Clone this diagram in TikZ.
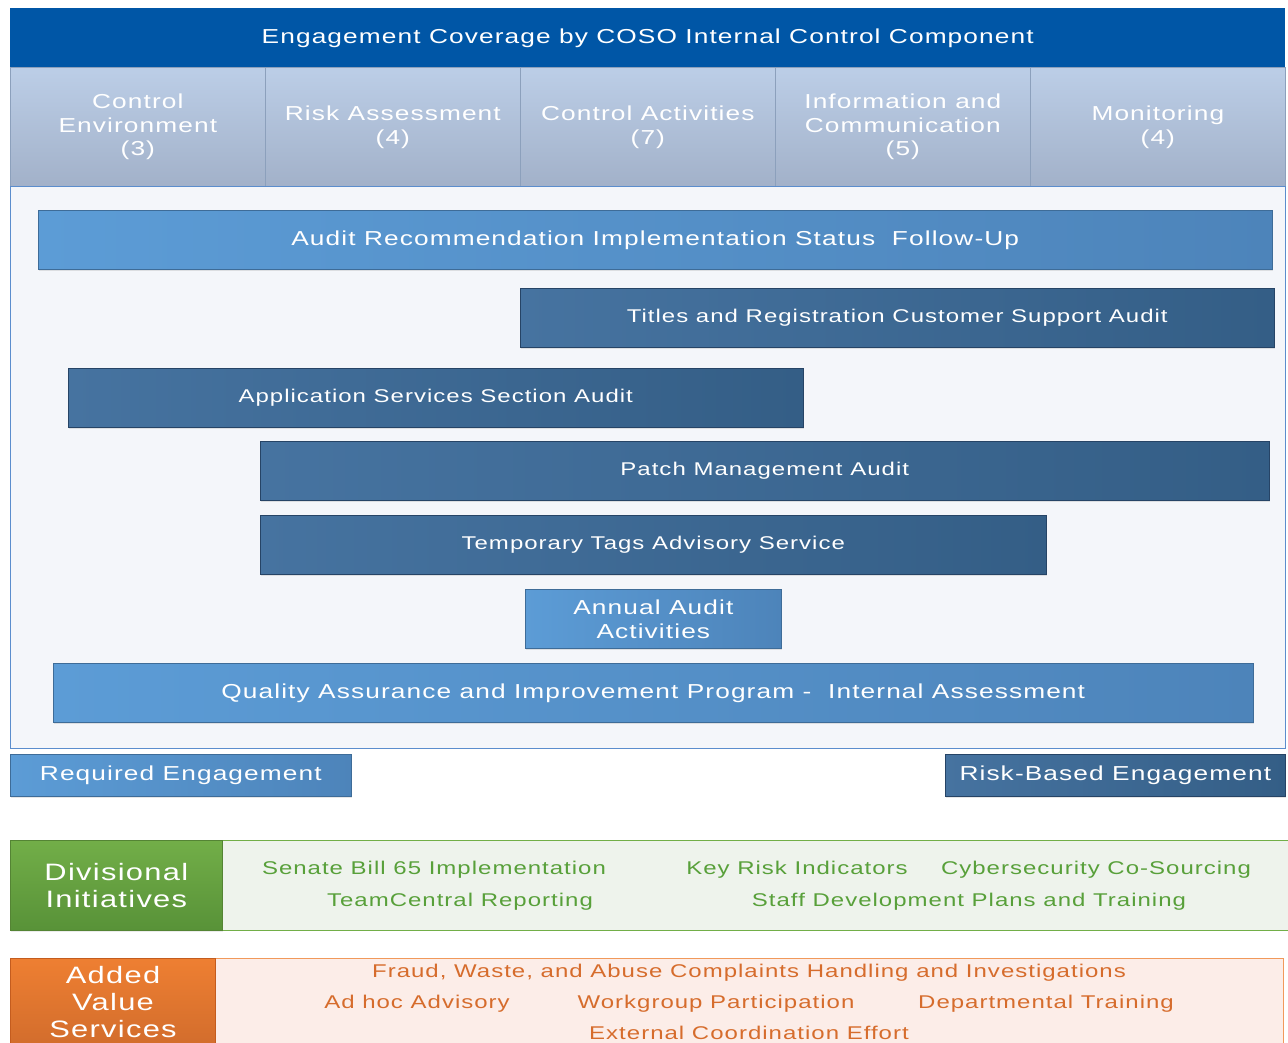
\documentclass[tikz,border=0pt]{standalone}
\usepackage{fontspec}
\setmainfont{Liberation Sans}[FakeStretch=1.3,LetterSpace=5.5]
\usetikzlibrary{shadows}

\definecolor{cosoblue}{RGB}{0,86,166}
\definecolor{colhi}{RGB}{188,206,231}
\definecolor{collo}{RGB}{162,177,201}
\definecolor{colline}{RGB}{140,160,188}
\definecolor{frameline}{RGB}{91,141,205}
\definecolor{framefill}{RGB}{244,246,250}
\definecolor{reqhi}{RGB}{92,156,214}
\definecolor{reqlo}{RGB}{77,132,186}
\definecolor{reqline}{RGB}{62,108,152}
\definecolor{riskhi}{RGB}{70,115,160}
\definecolor{risklo}{RGB}{52,94,134}
\definecolor{riskline}{RGB}{38,68,102}
\definecolor{grnhi}{RGB}{114,174,72}
\definecolor{grnlo}{RGB}{88,146,56}
\definecolor{grnline}{RGB}{84,132,52}
\definecolor{grnfill}{RGB}{238,243,236}
\definecolor{grntxt}{RGB}{88,160,58}
\definecolor{orghi}{RGB}{238,127,50}
\definecolor{orglo}{RGB}{200,102,42}
\definecolor{orgline}{RGB}{196,92,30}
\definecolor{orgfill}{RGB}{252,237,232}
\definecolor{orgtxt}{RGB}{214,108,44}

\begin{document}
\begin{tikzpicture}[x=0.02cm, y=-0.02cm,
    box/.style={rectangle, anchor=north west, inner sep=0pt, align=center, text=white},
    cosobar/.style={box, fill=cosoblue, minimum width=\F*1275pt, minimum height=\F*59pt,
        font=\fontsize{11.5}{13.6}\selectfont},
    colhead/.style={box, draw=colline, top color=colhi, bottom color=collo,
        minimum width=\F*255pt, minimum height=\F*119pt, font=\fontsize{11.5}{13.6}\selectfont},
    engbar/.style={box, minimum height=\F*59pt, font=\fontsize{11.5}{13.6}\selectfont,
        drop shadow={opacity=.2, shadow xshift=.6pt, shadow yshift=-1.2pt}},
    reqbar/.style={engbar, draw=reqline, left color=reqhi, right color=reqlo},
    riskbar/.style={engbar, draw=riskline, left color=riskhi, right color=risklo,
        font=\fontsize{10.5}{13}\selectfont},
    legend/.style={minimum height=\F*42pt, font=\fontsize{11.5}{14}\selectfont},
    grntext/.style={text=grntxt, font=\fontsize{10.5}{13}\selectfont},
    orgtext/.style={text=orgtxt, font=\fontsize{10.5}{13}\selectfont}]
    \def\F{0.56906} % pt per px

    \clip (0,0) rectangle (1288,1042);

    % COSO components
    \node[cosobar] (coso) at (10,8) {Engagement Coverage by COSO Internal Control Component};
    \foreach[count=\i] \txt in {{Control\\Environment\\(3)}, {Risk Assessment\\(4)},
        {Control Activities\\(7)}, {Information and\\Communication\\(5)}, {Monitoring\\(4)}}
        \node[colhead] (col\i) at (255*\i-245,67) {\txt};

    \node[box, draw=frameline, fill=framefill, minimum width=\F*1275pt, minimum height=\F*562pt]
        (frame) at (10,186) {};

    % engagements
    \node[reqbar, minimum width=\F*1234pt] (followup) at (38,210)
        {Audit Recommendation Implementation Status~ Follow-Up};
    \node[riskbar, minimum width=\F*754pt] (titles) at (520,288)
        {Titles and Registration Customer Support Audit};
    \node[riskbar, minimum width=\F*735pt] (appsvc) at (68,368)
        {Application Services Section Audit};
    \node[riskbar, minimum width=\F*1009pt] (patch) at (260,441)
        {Patch Management Audit};
    \node[riskbar, minimum width=\F*786pt] (temptags) at (260,515)
        {Temporary Tags Advisory Service};
    \node[reqbar, minimum width=\F*256pt] (annual) at (525,589)
        {Annual Audit\\Activities};
    \node[reqbar, minimum width=\F*1200pt] (qaip) at (53,663)
        {Quality Assurance and Improvement Program -~ Internal Assessment};

    % legend
    \node[reqbar, legend, minimum width=\F*341pt] (required) at (10,754) {Required Engagement};
    \node[riskbar, legend, minimum width=\F*340pt] (riskbased) at (945,754) {Risk-Based Engagement};

    % divisional initiatives
    \node[box, draw=grnhi, fill=grnfill, minimum width=\F*1100pt, minimum height=\F*90pt]
        (divbox) at (222,840) {};
    \node[box, draw=grnline, top color=grnhi, bottom color=grnlo, minimum width=\F*212pt,
        minimum height=\F*90pt, font=\fontsize{13.5}{15.3}\selectfont,
        drop shadow={opacity=.15, shadow xshift=.6pt, shadow yshift=-1.2pt}]
        (divlabel) at (10,840) {Divisional\\Initiatives};
    \node[grntext] (sb65) at (434,870) {Senate Bill 65 Implementation};
    \node[grntext] (kri) at (797,870) {Key Risk Indicators};
    \node[grntext] (cyber) at (1096,870) {Cybersecurity Co-Sourcing};
    \node[grntext] (teamcentral) at (460,902) {TeamCentral Reporting};
    \node[grntext] (staffdev) at (969,902) {Staff Development Plans and Training};

    % added value services
    \node[box, draw=orghi!80, fill=orgfill, minimum width=\F*1068pt, minimum height=\F*120pt]
        (avsbox) at (215,958) {};
    \node[box, draw=orgline, top color=orghi, bottom color=orglo, minimum width=\F*205pt,
        minimum height=\F*120pt] (avslabel) at (10,958) {};
    \node[text=white, align=center, font=\fontsize{13.5}{15.6}\selectfont] (avstext) at (113,1002)
        {Added\\Value\\Services};
    \node[orgtext] (fwa) at (749,973) {Fraud, Waste, and Abuse Complaints Handling and Investigations};
    \node[orgtext] (adhoc) at (417,1004) {Ad hoc Advisory};
    \node[orgtext] (workgroup) at (716,1004) {Workgroup Participation};
    \node[orgtext] (depttrain) at (1046,1004) {Departmental Training};
    \node[orgtext] (extcoord) at (749,1033) {External Coordination Effort};
\end{tikzpicture}
\end{document}
